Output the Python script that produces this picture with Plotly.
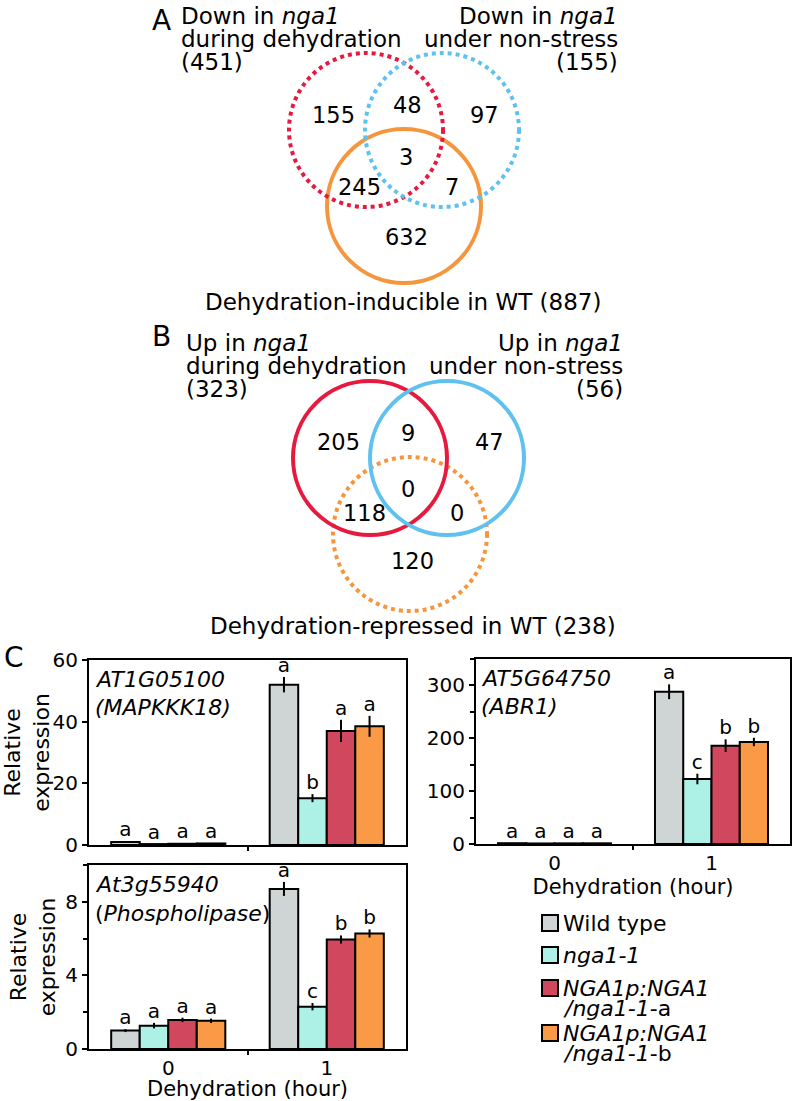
import plotly.graph_objects as go

W, H = 796, 1101
FONT = "DejaVu Sans"


def px(x):
    return x / W


def py(y):
    return 1 - y / H


# ---------------- Data ----------------
# Venn A (down-regulated in nga1 vs dehydration-inducible in WT)
venn_a_left_label = ["Down in <i>nga1</i>", "during dehydration", "(451)"]
venn_a_right_label = ["Down in <i>nga1</i>", "under non-stress", "(155)"]
venn_a_bottom_label = "Dehydration-inducible in WT (887)"
venn_a_counts = [155, 48, 97, 3, 245, 7, 632]

# Venn B (up-regulated in nga1 vs dehydration-repressed in WT)
venn_b_left_label = ["Up in <i>nga1</i>", "during dehydration", "(323)"]
venn_b_right_label = ["Up in <i>nga1</i>", "under non-stress", "(56)"]
venn_b_bottom_label = "Dehydration-repressed in WT (238)"
venn_b_counts = [205, 9, 47, 0, 118, 0, 120]

# Bar charts (panel C)
genotypes = ["Wild type", "<i>nga1-1</i>",
             "<i>NGA1p:NGA1</i><br><i>/nga1-1</i>-a",
             "<i>NGA1p:NGA1</i><br><i>/nga1-1</i>-b"]
time_points = [0, 1]
time_labels = ["0", "1"]

# rows: genotype, columns: dehydration 0 h, 1 h
mapkkk18_mean = [[1.0, 52.0], [0.3, 15.2], [0.4, 37.0], [0.5, 38.5]]
mapkkk18_err = [[0.2, 2.5], [0.1, 1.3], [0.1, 3.6], [0.1, 3.4]]
mapkkk18_letters = [["a", "a"], ["a", "b"], ["a", "a"], ["a", "a"]]

abr1_mean = [[1.5, 288], [1.0, 123], [1.2, 186], [1.3, 193]]
abr1_err = [[0.3, 14], [0.2, 10], [0.2, 12], [0.2, 8]]
abr1_letters = [["a", "a"], ["a", "c"], ["a", "b"], ["a", "b"]]

phospho_mean = [[1.0, 8.7], [1.27, 2.3], [1.58, 5.95], [1.53, 6.28]]
phospho_err = [[0.08, 0.38], [0.15, 0.2], [0.12, 0.22], [0.12, 0.22]]
phospho_letters = [["a", "a"], ["a", "c"], ["a", "b"], ["a", "b"]]

# ---------------- Styles / layout geometry ----------------
bar_colors = ["#cfd4d4", "#adf0e5", "#d1475e", "#fb9a46"]
venn_red = "#e6193f"
venn_blue = "#5ec1ee"
venn_orange = "#f5963d"

BAR_W = 0.18

fig = go.Figure()

panels = [
    ("x", "y", mapkkk18_mean, mapkkk18_err, mapkkk18_letters),
    ("x2", "y2", abr1_mean, abr1_err, abr1_letters),
    ("x3", "y3", phospho_mean, phospho_err, phospho_letters),
]

for xa, ya, means, errs, letters in panels:
    for g, name in enumerate(genotypes):
        xs = [t + (g - 1.5) * BAR_W for t in time_points]
        fig.add_trace(go.Bar(
            x=xs, y=means[g], width=BAR_W, name=name,
            marker=dict(color=bar_colors[g], line=dict(color="black", width=2)),
            error_y=dict(type="data", array=errs[g], width=0, thickness=2, color="black"),
            xaxis=xa, yaxis=ya, showlegend=False,
        ))
        fig.add_trace(go.Scatter(
            x=xs, y=[m + e for m, e in zip(means[g], errs[g])],
            text=letters[g], mode="text", textposition="top center",
            textfont=dict(size=20, color="black", family=FONT),
            xaxis=xa, yaxis=ya, showlegend=False, cliponaxis=False, hoverinfo="skip",
        ))

axis_common = dict(showline=True, linecolor="black", linewidth=2, mirror=True,
                   showgrid=False, zeroline=False, automargin=False)

xaxis_common = dict(axis_common, range=[-0.5, 1.5], tickmode="array",
                    tickvals=time_points, ticktext=time_labels, ticks="",
                    tickfont=dict(size=20, color="black"),
                    minor=dict(tickmode="array", tickvals=[0.5], ticks="outside",
                               ticklen=4, tickwidth=2, tickcolor="black"))

yaxis_common = dict(axis_common, ticks="outside", ticklen=5, tickwidth=2, tickcolor="black",
                    tickfont=dict(size=20, color="black"))

ytitle = dict(text="Relative<br>expression", font=dict(size=22, color="black"), standoff=4)
xtitle = dict(text="Dehydration (hour)", font=dict(size=21, color="black"), standoff=0)

fig.update_layout(
    xaxis=dict(xaxis_common, domain=[px(89), px(406)], anchor="y", showticklabels=False),
    yaxis=dict(yaxis_common, domain=[py(845), py(660)], anchor="x", range=[0, 60],
               tick0=0, dtick=20, title=ytitle),
    xaxis2=dict(xaxis_common, domain=[px(476), px(790)], anchor="y2", title=xtitle),
    yaxis2=dict(yaxis_common, domain=[py(844), py(659)], anchor="x2", range=[0, 350],
                tick0=0, dtick=100,
                minor=dict(dtick=50, ticks="outside", ticklen=4, tickwidth=2, tickcolor="black")),
    xaxis3=dict(xaxis_common, domain=[px(89), px(406)], anchor="y3", title=xtitle),
    yaxis3=dict(yaxis_common, domain=[py(1049), py(865)], anchor="x3", range=[0, 10],
                tick0=0, dtick=4, title=ytitle,
                minor=dict(dtick=2, ticks="outside", ticklen=4, tickwidth=2, tickcolor="black")),
)

annotations = []


def ann(x, y, text, size, xanchor="center", yanchor="middle"):
    annotations.append(dict(
        x=px(x), y=py(y), xref="paper", yref="paper", text=text, showarrow=False,
        xanchor=xanchor, yanchor=yanchor,
        font=dict(size=size, color="black", family=FONT),
    ))


# gene labels inside bar panels
ann(93, 679, "<i>AT1G05100</i>", 22, xanchor="left")
ann(93, 707, "<i>(MAPKKK18)</i>", 22, xanchor="left")
ann(479, 678, "<i>AT5G64750</i>", 22, xanchor="left")
ann(479, 706, "<i>(ABR1)</i>", 22, xanchor="left")
ann(93, 884, "<i>At3g55940</i>", 22, xanchor="left")
ann(93, 913, "(<i>Phospholipase</i>)", 22, xanchor="left")

# panel letters
ann(161, 20, "A", 28)
ann(161, 337, "B", 28)
ann(14, 657, "C", 28)

# Venn set labels
line_gap = 23
for i, txt in enumerate(venn_a_left_label):
    ann(179, 16 + i * line_gap, txt, 23, xanchor="left")
for i, txt in enumerate(venn_a_right_label):
    ann(620, 16 + i * line_gap, txt, 23, xanchor="right")
ann(403, 302, venn_a_bottom_label, 23)

for i, txt in enumerate(venn_b_left_label):
    ann(184, 343 + i * line_gap, txt, 23, xanchor="left")
for i, txt in enumerate(venn_b_right_label):
    ann(625, 343 + i * line_gap, txt, 23, xanchor="right")
ann(413, 626, venn_b_bottom_label, 23)

# Venn region count positions (layout)
venn_a_pos = [(333, 115), (407, 105), (484, 115), (406, 157), (359, 187), (452, 187), (406, 237)]
venn_b_pos = [(338, 442), (408, 433), (489, 442), (408, 489), (364, 513), (457, 513), (412, 561)]
for c, (x, y) in zip(venn_a_counts, venn_a_pos):
    ann(x, y, str(c), 22.5)
for c, (x, y) in zip(venn_b_counts, venn_b_pos):
    ann(x, y, str(c), 22.5)

# Legend (drawn manually to match tight line spacing)
legend_line_y = [[923], [955], [988, 1008], [1033, 1053]]
shapes = []
for g, name in enumerate(genotypes):
    lines = name.split("<br>")
    y0 = legend_line_y[g][0]
    shapes.append(dict(type="rect", xref="paper", yref="paper",
                       x0=px(542), x1=px(558), y0=py(y0 + 8), y1=py(y0 - 8),
                       fillcolor=bar_colors[g], line=dict(color="black", width=2)))
    for ln, yy in zip(lines, legend_line_y[g]):
        ann(561, yy, ln, 22, xanchor="left")

fig.update_layout(annotations=annotations)

# Venn circles
R = 77
venn_a_circles = [((404, 206), venn_orange, "solid"),
                  ((366, 130), venn_red, "dot"),
                  ((442, 130), venn_blue, "dot")]
venn_b_circles = [((410, 534), venn_orange, "dot"),
                  ((370, 458), venn_red, "solid"),
                  ((447, 458), venn_blue, "solid")]
for (cx, cy), col, dash in venn_a_circles + venn_b_circles:
    shapes.append(dict(type="circle", xref="paper", yref="paper",
                       x0=px(cx - R), x1=px(cx + R), y0=py(cy + R), y1=py(cy - R),
                       line=dict(color=col, width=4, dash=dash), layer="above"))
fig.update_layout(shapes=shapes)

fig.update_layout(
    width=W, height=H, margin=dict(l=0, r=0, t=0, b=0, autoexpand=False),
    paper_bgcolor="white", plot_bgcolor="white",
    font=dict(family=FONT, color="black"),
    barmode="overlay", showlegend=False,
)

fig.write_html("out.html", config={"displayModeBar": False},
               post_script="document.body.style.margin='0px';document.body.style.padding='0px';")
